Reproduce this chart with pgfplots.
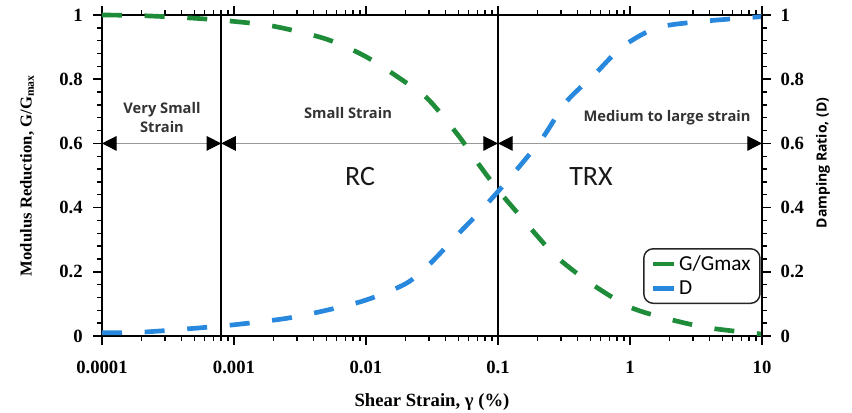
\documentclass[border=0pt]{standalone}
\usepackage{pgfplots}
\pgfplotsset{compat=1.18}
\usepackage{fontspec}
\setmainfont{Liberation Serif}
\newfontfamily\osans{Open Sans}
\newfontfamily\calib{Carlito}
\usetikzlibrary{arrows.meta}

\definecolor{ggreen}{RGB}{31,140,58}
\definecolor{dblue}{RGB}{40,136,222}

% modulus reduction curve G/Gmax
\pgfplotstableread{
x y
1e-4 1.000
2e-4 0.998
5e-4 0.990
1e-3 0.980
2e-3 0.965
5e-3 0.925
1e-2 0.870
2e-2 0.790
3e-2 0.735
5e-2 0.625
7e-2 0.540
1e-1 0.455
0.15 0.370
0.20 0.310
0.28 0.245
0.50 0.165
1.0 0.090
2.0 0.052
4.0 0.025
10 0.006
}\gtable

% damping ratio curve D
\pgfplotstableread{
x y
1e-4 0.010
2e-4 0.012
5e-4 0.024
1e-3 0.035
2.5e-3 0.055
5e-3 0.080
1e-2 0.112
2e-2 0.163
3e-2 0.222
5e-2 0.318
7e-2 0.380
1e-1 0.450
0.15 0.535
0.22 0.620
0.33 0.730
0.54 0.815
0.87 0.900
1.6 0.960
3.5 0.980
10 0.995
}\dtable

\pgfplotsset{
  commonaxis/.style={
    at={(0pt,0pt)}, anchor=south west,
    scale only axis, width=495pt, height=240.75pt,
    ymin=0, ymax=1,
    ytick={0,0.2,0.4,0.6,0.8,1},
    yticklabels={0,0.2,0.4,0.6,0.8,1},
    minor y tick num=4,
    tick align=outside,
    major tick length=6.5pt, minor tick length=3.5pt,
    every tick/.style={black, line width=1.1pt},
    axis line style={line width=1.5pt},
    ticklabel style={font=\bfseries\fontsize{14}{14}\selectfont},
    clip=false,
  },
}

\begin{document}
\begin{tikzpicture}
\begin{axis}[
  commonaxis,
  xmode=log, xmin=1e-4, xmax=10,
  ytick pos=left,
  yticklabel style={xshift=-4.5pt},
  xticklabel style={yshift=-8.5pt},
  xtick={1e-4,1e-3,1e-2,1e-1,1,10},
  xticklabels={0.0001,0.001,0.01,0.1,1,10},
  minor xtick={2e-4,3e-4,4e-4,5e-4,6e-4,7e-4,8e-4,9e-4,
               2e-3,3e-3,4e-3,5e-3,6e-3,7e-3,8e-3,9e-3,
               2e-2,3e-2,4e-2,5e-2,6e-2,7e-2,8e-2,9e-2,
               0.2,0.3,0.4,0.5,0.6,0.7,0.8,0.9,
               2,3,4,5,6,7,8,9},
  xlabel={Shear Strain, γ (\%)},
  xlabel style={at={(axis description cs:0.5,-0.205)}, anchor=center,
                font=\bfseries\fontsize{14}{14}\selectfont},
  ylabel={Modulus Reduction, G/G\textsubscript{max}},
  ylabel style={at={(axis description cs:-0.1136,0.5)}, anchor=center,
                font=\bfseries\fontsize{12.5}{12.5}\selectfont},
  legend cell align=left,
  legend style={at={(axis description cs:0.998,0.274)}, anchor=north east,
                draw=black!85, line width=1.1pt, rounded corners=7pt,
                font=\calib\fontsize{16}{16}\selectfont,
                inner xsep=5pt, inner ysep=3pt, row sep=2.5pt},
  legend image code/.code={\draw[#1, solid] (0pt,0pt) -- (16pt,0pt);},
]
% strain range boundaries
\addplot[black, line width=1.1pt, forget plot] coordinates {(8e-4,0) (8e-4,1)};
\addplot[black, line width=1.1pt, forget plot] coordinates {(0.1,0) (0.1,1)};

% range arrows
\addplot[black!40, line width=0.8pt, forget plot,
  {Triangle[color=black, length=11pt, width=11pt]}-{Triangle[color=black, length=11pt, width=11pt]}]
  coordinates {(1e-4,0.6) (8e-4,0.6)};
\addplot[black!40, line width=0.8pt, forget plot,
  {Triangle[color=black, length=11pt, width=11pt]}-{Triangle[color=black, length=11pt, width=11pt]}]
  coordinates {(8e-4,0.6) (0.1,0.6)};
\addplot[black!40, line width=0.8pt, forget plot,
  {Triangle[color=black, length=11pt, width=11pt]}-{Triangle[color=black, length=11pt, width=11pt]}]
  coordinates {(0.1,0.6) (10,0.6)};

\addplot[ggreen, line width=3.5pt, dash pattern=on 15pt off 17pt, smooth] table[x=x, y=y] {\gtable};
\addlegendentry{G/Gmax}
\addplot[dblue, line width=3.5pt, dash pattern=on 15pt off 17pt, smooth] table[x=x, y=y] {\dtable};
\addlegendentry{D}

% range annotations
\node[font=\osans\bfseries\fontsize{11}{14}\selectfont, text=black!80, align=center]
  at (rel axis cs:0.0909,0.681) {Very Small\\Strain};
\node[font=\osans\bfseries\fontsize{11}{14}\selectfont, text=black!80]
  at (rel axis cs:0.3727,0.695) {Small Strain};
\node[font=\osans\bfseries\fontsize{11}{14}\selectfont, text=black!80]
  at (rel axis cs:0.8561,0.679) {Medium to large strain};
\node[font=\calib\fontsize{21}{21}\selectfont, text=black!90]
  at (rel axis cs:0.3909,0.498) {RC};
\node[font=\calib\fontsize{21}{21}\selectfont, text=black!90]
  at (rel axis cs:0.7409,0.498) {TRX};
\end{axis}

\begin{axis}[
  commonaxis,
  xmin=0, xmax=1,
  axis x line=none,
  axis y line*=right,
  yticklabel style={xshift=4pt},
  ylabel={\osans\bfseries Damping Ratio, (D)},
  ylabel style={at={(axis description cs:1.0924,0.539)}, anchor=center,
                font=\fontsize{10.5}{10.5}\selectfont},
]
\addplot[draw=none] coordinates {(0,0) (1,1)};
\end{axis}

\pgfresetboundingbox
\path[use as bounding box] (-76.5pt,-57pt) rectangle (562.5pt,252pt);
\end{tikzpicture}
\end{document}
